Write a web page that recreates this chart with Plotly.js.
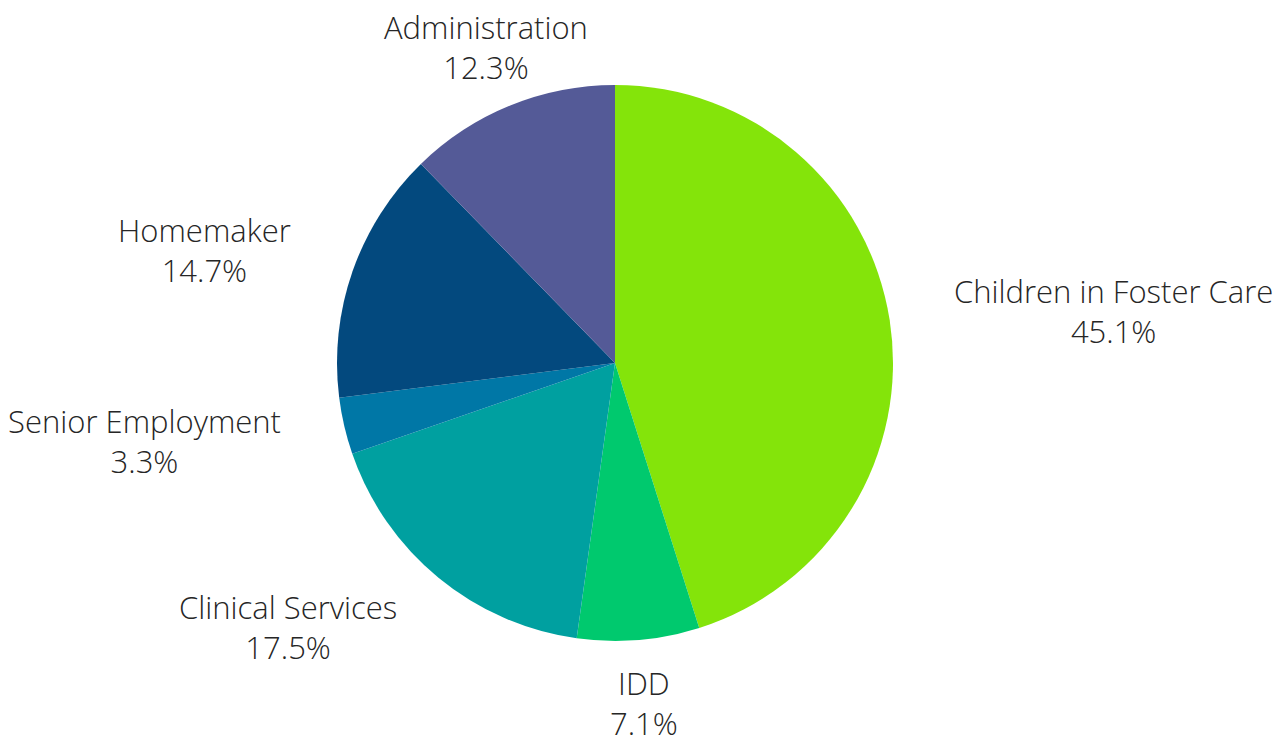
<!DOCTYPE html>
<html>
<head>
<meta charset="utf-8">
<script src="https://cdn.plot.ly/plotly-3.0.1.min.js"></script>
<style>html,body{margin:0;padding:0;background:#fff;}#chart{width:1288px;height:742px;}</style>
</head>
<body>
<div id="chart"></div>
<script>
const labels = ["Children in Foster Care", "IDD", "Clinical Services", "Senior Employment", "Homemaker", "Administration"];
const values = [45.1, 7.1, 17.5, 3.3, 14.7, 12.3];
const colors = ["#84e40a", "#00c96e", "#00a0a0", "#0077a6", "#03497e", "#545a97"];

const W = 1288, H = 742;
const domX = [337 / W, 893 / W];
const domY = [101 / H, 657 / H];
const radiusPx = Math.min((domX[1] - domX[0]) * W, (domY[1] - domY[0]) * H) / 2;
const cx = (domX[0] + domX[1]) / 2;
const cy = (domY[0] + domY[1]) / 2;
const labelR = radiusPx * 1.229;
const textFont = {family: "Open Sans", size: 31, color: "#262626", weight: 300};

const total = values.reduce((a, b) => a + b, 0);
const annotations = [];
let cum = 0;
values.forEach((v, i) => {
  const mid = (cum + v / 2) / total * 2 * Math.PI;
  cum += v;
  const s = Math.sin(mid), c = Math.cos(mid);
  const anchor = Math.abs(s) < 0.5 ? "center" : (s > 0 ? "left" : "right");
  const pct = (v / total * 100).toFixed(1) + "%";
  annotations.push({
    xref: "paper", yref: "paper", x: cx, y: cy,
    xshift: labelR * s, yshift: labelR * c,
    xanchor: anchor, yanchor: "middle", align: "center",
    borderpad: 0,
    text: labels[i] + "<br>" + pct,
    showarrow: false, font: textFont
  });
});

Plotly.newPlot("chart", [{
  type: "pie",
  labels: labels,
  values: values,
  sort: false,
  direction: "clockwise",
  rotation: 0,
  marker: {colors: colors, line: {width: 0}},
  textinfo: "none",
  hoverinfo: "label+percent",
  domain: {x: domX, y: domY},
  showlegend: false
}], {
  width: W, height: H,
  margin: {l: 0, r: 0, t: 0, b: 0},
  paper_bgcolor: "#ffffff",
  showlegend: false,
  font: {family: "Open Sans", color: "#262626"},
  annotations: annotations
}, {displayModeBar: false});
</script>
</body>
</html>
